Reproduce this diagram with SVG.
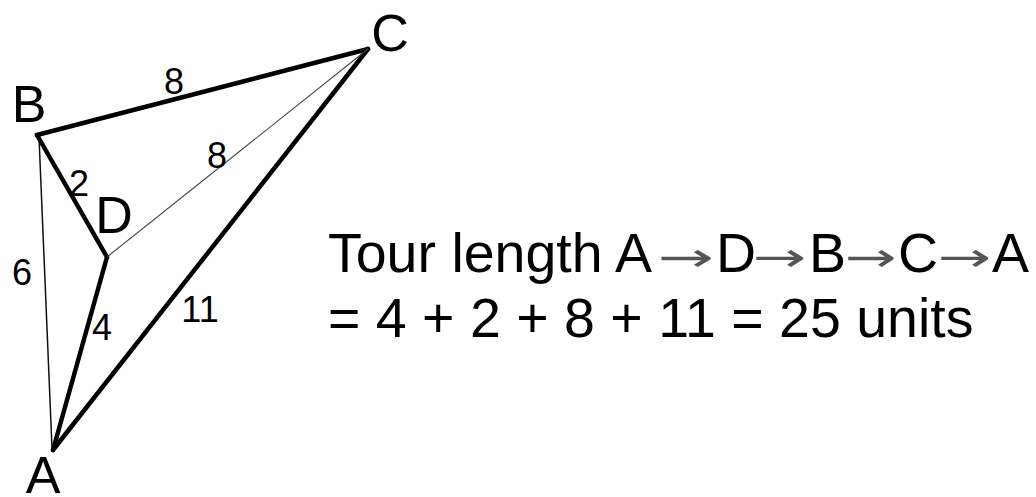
<svg xmlns="http://www.w3.org/2000/svg" width="1036" height="497" viewBox="0 0 1036 497">
<style>
.bg{fill:#fff}
.thick{stroke:#000;stroke-width:4.5;stroke-linecap:round;stroke-linejoin:round;fill:none}
.thin{stroke:#111;stroke-width:1.5;fill:none}
.hair{stroke:#444;stroke-width:1.1;fill:none}
.vl{font-family:"Liberation Sans",Arial,sans-serif;font-size:52px;fill:#000}
.el{font-family:"Liberation Sans",Arial,sans-serif;font-size:36px;fill:#000}
.txt{font-family:"Liberation Sans",Arial,sans-serif;font-size:55.5px;fill:#000}
.arr{font-family:"DejaVu Sans",sans-serif;font-size:40px;fill:#555}
</style>
<rect class="bg" x="0" y="0" width="1036" height="497"/>
<g id="connectors">
<line class="thick" x1="37" y1="135" x2="368" y2="49"/>
<line class="thick" x1="37" y1="135" x2="107" y2="257"/>
<line class="thick" x1="107" y1="257" x2="53" y2="450"/>
<line class="thick" x1="53" y1="450" x2="368" y2="49"/>
<line class="thin" x1="39" y1="137" x2="52" y2="448"/>
<line class="hair" x1="107" y1="257" x2="368" y2="49"/>
<text class="el" x="174" y="94" text-anchor="middle">8</text>
<text class="el" x="217" y="168" text-anchor="middle">8</text>
<text class="el" x="79" y="196" text-anchor="middle">2</text>
<text class="el" x="22" y="285" text-anchor="middle">6</text>
<text class="el" x="102" y="340" text-anchor="middle">4</text>
<text class="el" x="200" y="322" text-anchor="middle">11</text>
</g>
<g id="node-B"><text class="vl" x="29" y="122" text-anchor="middle">B</text></g>
<g id="node-C"><text class="vl" x="390" y="51" text-anchor="middle">C</text></g>
<g id="node-D"><text class="vl" x="114" y="233" text-anchor="middle">D</text></g>
<g id="node-A"><text class="vl" x="43" y="493" text-anchor="middle">A</text></g>
<g id="tour-text">
<text class="txt" x="328" y="272">Tour length A<tspan x="716">D</tspan><tspan x="809">B</tspan><tspan x="898">C</tspan><tspan x="992">A</tspan></text>
<text class="arr" transform="translate(658,271) scale(1.68,1)">→</text>
<text class="arr" transform="translate(753,271) scale(1.6,1)">→</text>
<text class="arr" transform="translate(845,271) scale(1.55,1)">→</text>
<text class="arr" transform="translate(938,271) scale(1.6,1)">→</text>
<text class="txt" x="328" y="337">= 4 + 2 + 8 + 11 = 25 units</text>
</g>
</svg>
